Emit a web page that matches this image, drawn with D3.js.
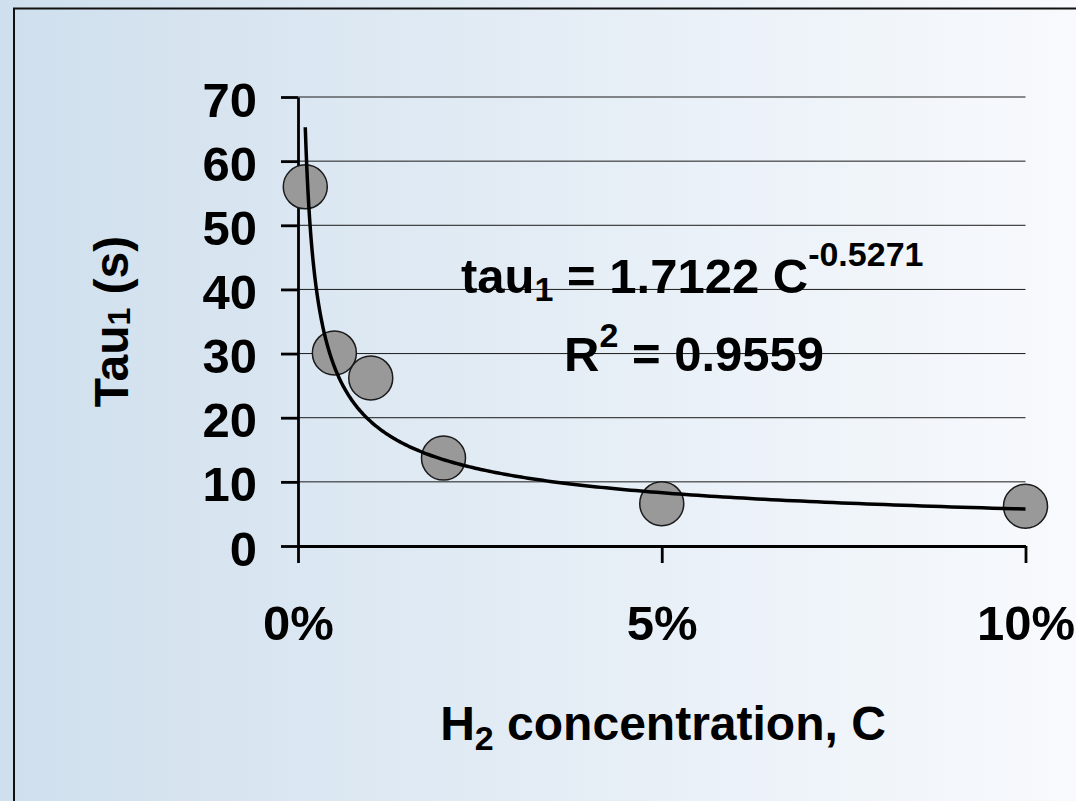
<!DOCTYPE html>
<html>
<head>
<meta charset="utf-8">
<script src="https://cdn.jsdelivr.net/npm/d3@7"></script>
<style>
  html, body { margin: 0; padding: 0; overflow: hidden; }
  svg { display: block; }
  text { font-family: "Liberation Sans", Arial, sans-serif; font-weight: bold; fill: #000; }
</style>
</head>
<body>
<svg id="chart" width="1076" height="801"></svg>
<script>
// ---- data ----
const concentration = [0.001, 0.005, 0.01, 0.02, 0.05, 0.10];   // H2 concentration, C (fraction)
const tau1 = [56.0, 30.1, 26.2, 13.7, 6.6, 6.2];                 // Tau1 (s)
const yTicks = [0, 10, 20, 30, 40, 50, 60, 70];
const xTicks = [0, 0.05, 0.10];
// fitted power trendline shown on the chart: tau1 = a * C^b
const fitA = 1.7122;
const fitB = -0.5271;
const fitR2 = "0.9559";
const fitRange = [0.001, 0.10];

const svg = d3.select("#chart");
const W = 1076, H = 801;

// background gradient
const defs = svg.append("defs");
const grad = defs.append("linearGradient").attr("id", "bg").attr("x1", "0").attr("y1", "0").attr("x2", "1").attr("y2", "0");
grad.append("stop").attr("offset", "0").attr("stop-color", "#cfdfed");
grad.append("stop").attr("offset", "1").attr("stop-color", "#f8fafd");
svg.append("rect").attr("x", 0).attr("y", 0).attr("width", W).attr("height", H).attr("fill", "url(#bg)");

// frame (extends beyond right/bottom edges)
svg.append("rect").attr("x", 14).attr("y", 8.5).attr("width", 1200).attr("height", 900)
  .attr("fill", "none").attr("stroke", "#111").attr("stroke-width", 2);

const x = d3.scaleLinear().domain([0, 0.10]).range([298, 1025.5]);
const y = d3.scaleLinear().domain([0, 70]).range([546, 97]);

// gridlines
svg.append("g").selectAll("line").data(yTicks.filter(d => d > 0)).join("line")
  .attr("x1", x(0)).attr("x2", x(0.10))
  .attr("y1", d => y(d)).attr("y2", d => y(d))
  .attr("stroke", "#1a1a1a").attr("stroke-width", 1);

// axes
const yAxis = svg.append("g").attr("transform", `translate(${x(0)},0)`)
  .call(d3.axisLeft(y).tickValues(yTicks).tickSize(17).tickSizeOuter(0).tickPadding(24).tickFormat(d3.format("d")));
const xAxis = svg.append("g").attr("transform", `translate(0,${y(0)})`)
  .call(d3.axisBottom(x).tickValues(xTicks).tickSize(17).tickSizeOuter(0).tickPadding(0).tickFormat(d3.format(".0%")));

[yAxis, xAxis].forEach(g => {
  g.select(".domain").attr("stroke", "#000").attr("stroke-width", 2.8);
  g.selectAll(".tick line").attr("stroke", "#000").attr("stroke-width", 2.8);
  g.selectAll(".tick text").attr("font-size", 49).attr("font-family", "'Liberation Sans', Arial, sans-serif").attr("font-weight", "bold").attr("fill", "#000");
});
yAxis.selectAll(".tick text").attr("dy", null).attr("dominant-baseline", "alphabetic").attr("y", 19).attr("x", -41);
xAxis.selectAll(".tick text").attr("dy", null).attr("y", 94);

// points
svg.append("g").selectAll("circle").data(concentration.map((c, i) => [c, tau1[i]])).join("circle")
  .attr("cx", d => x(d[0])).attr("cy", d => y(d[1])).attr("r", 22)
  .attr("fill", "#999999").attr("stroke", "#1a1a1a").attr("stroke-width", 1.5);

// trendline from displayed fit
const trend = d3.range(0, 301).map(i => {
  const c = fitRange[0] * Math.pow(fitRange[1] / fitRange[0], i / 300);
  return [c, fitA * Math.pow(c, fitB)];
});
svg.append("path").datum(trend)
  .attr("d", d3.line().x(d => x(d[0])).y(d => y(d[1])))
  .attr("fill", "none").attr("stroke", "#000").attr("stroke-width", 3.5);

// equation text
const eq = svg.append("text").attr("x", 461).attr("y", 293).attr("font-size", 49);
eq.append("tspan").text("tau");
eq.append("tspan").attr("font-size", 34).attr("dy", 8).text("1");
eq.append("tspan").attr("dy", -8).text(" = 1.7122 C");
eq.append("tspan").attr("font-size", 34).attr("dy", -27).text(String(fitB.toFixed(4)));

const r2 = svg.append("text").attr("x", 564).attr("y", 371).attr("font-size", 49);
r2.append("tspan").text("R");
r2.append("tspan").attr("font-size", 34).attr("dy", -24).text("2");
r2.append("tspan").attr("dy", 24).text(" = " + fitR2);

// axis titles
const xt = svg.append("text").attr("x", 663).attr("y", 740).attr("text-anchor", "middle").attr("font-size", 48);
xt.append("tspan").text("H");
xt.append("tspan").attr("font-size", 34).attr("dy", 10).text("2");
xt.append("tspan").attr("dy", -10).text(" concentration, C");

const yt = svg.append("text").attr("transform", "translate(128,321.5) rotate(-90)").attr("text-anchor", "middle").attr("font-size", 48);
yt.append("tspan").text("Tau");
yt.append("tspan").attr("font-size", 32).attr("dy", 2).text("1");
yt.append("tspan").attr("dy", -2).text(" (s)");
</script>
</body>
</html>
